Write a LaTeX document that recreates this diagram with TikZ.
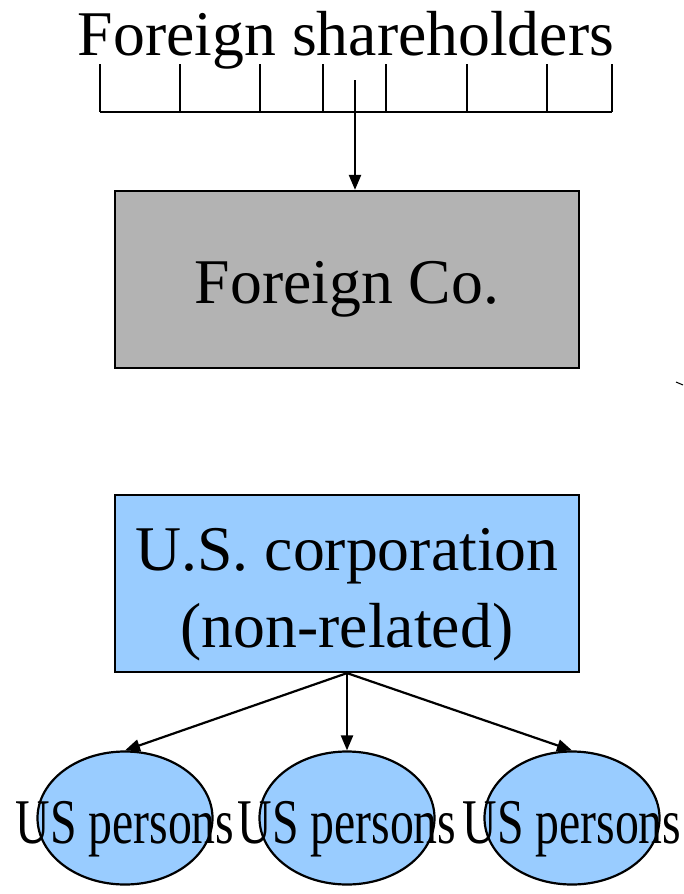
\documentclass[tikz,border=0pt]{standalone}
\usepackage{fontspec}
\setmainfont{Liberation Serif}
\usepackage{tikz}
\usetikzlibrary{arrows.meta,shapes.geometric}
\definecolor{cogray}{HTML}{B3B3B3}
\definecolor{usblue}{HTML}{99CCFF}

\begin{document}
\begin{tikzpicture}[%
    x=1pt, y=-1pt, line width=2.2pt, > = {Triangle[length=15pt,width=12pt]},
    bigtext/.style={font=\fontsize{63.7}{77}\selectfont},
    corpbox/.style={draw, rectangle, bigtext, align=center, inner sep=0pt,
        minimum width=464pt, minimum height=177pt, text depth=0pt},
    person/.style={draw, ellipse, fill=usblue, inner sep=0pt, bigtext,
        minimum width=175pt, minimum height=133pt, text height=50pt, text depth=0pt}]
    \useasboundingbox (0,0) rectangle (683,894);

    \node[bigtext, anchor=base, inner sep=0pt](holders) at (346,55) {Foreign shareholders};
    % comb of shareholders
    \draw (100,112) -- (612,112);
    \foreach \x in {100,180,260,323,386,467,547,612}
        \draw (\x,64) -- (\x,112);
    \coordinate(stake) at (355,80);

    \node[corpbox, fill=cogray, text height=47pt](foreign) at (347,279.5) {Foreign Co.};
    \node[corpbox, fill=usblue, text height=127pt](uscorp) at (347,583.5) {U.S. corporation\\(non-related)};

    \node[person](p1) at (125,818) {\makebox[0pt]{\scalebox{0.75}[1]{US persons}}};
    \node[person](p2) at (347,818) {\makebox[0pt]{\scalebox{0.75}[1]{US persons}}};
    \node[person](p3) at (572,818) {\makebox[0pt]{\scalebox{0.75}[1]{US persons}}};

    \draw[->] (stake) -- (stake |- foreign.north);
    \foreach \p in {p1,p2,p3}
        \draw[->] (uscorp.south) -- (\p.north);

    \draw[line width=1pt] (676,382) -- (683,385);
\end{tikzpicture}
\end{document}
